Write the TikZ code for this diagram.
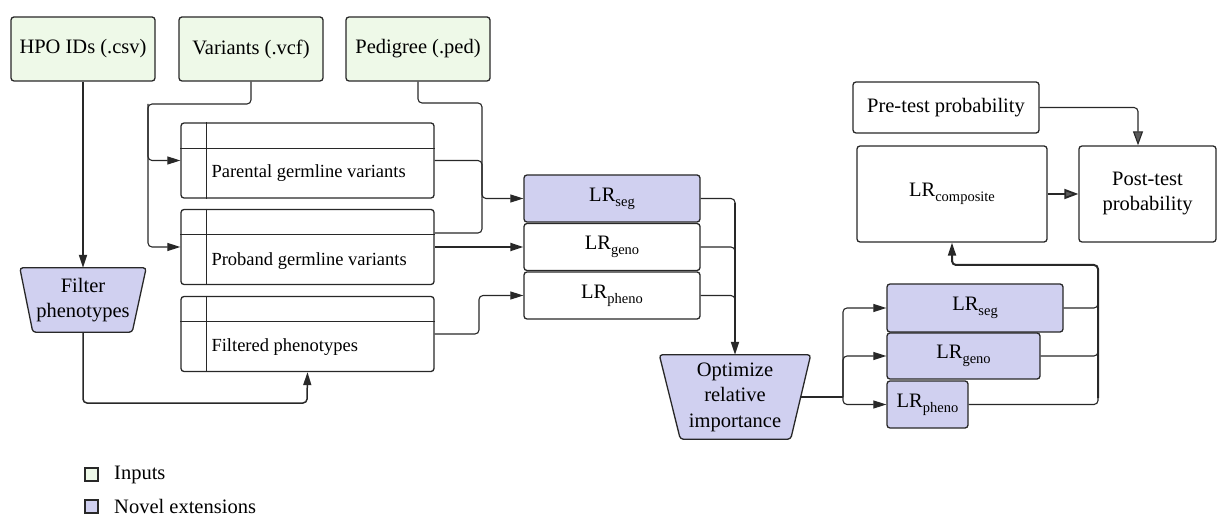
\documentclass[tikz,border=0pt]{standalone}
\usepackage{fontspec}
\setmainfont{Liberation Serif}
\newfontfamily\dgfont{Liberation Serif}
\usetikzlibrary{arrows.meta,calc,backgrounds}
\definecolor{ingreen}{RGB}{238,249,232}
\definecolor{novel}{RGB}{208,208,240}
\definecolor{ln}{RGB}{40,40,40}
\definecolor{tipgray}{RGB}{90,90,90}
\newcommand\lrsub[1]{LR\raisebox{-0.55ex}{\dgfont\fontsize{14.5}{15}\selectfont #1}}
\begin{document}
\begin{tikzpicture}[x=1pt,y=-1pt,
  box/.style={draw=ln, line width=1.3pt, rounded corners=3pt, align=center,
    font=\dgfont\fontsize{20.5}{25}\selectfont, inner sep=0pt},
  inbox/.style={box, fill=ingreen, minimum width=144pt, minimum height=64pt},
  tbl/.style={box, minimum width=253pt, minimum height=75pt},
  tbltext/.style={anchor=west, inner sep=0pt, font=\dgfont\fontsize{18.5}{22}\selectfont},
  lrbox/.style={box, minimum height=47pt},
  nov/.style={fill=novel},
  trap/.style={draw=ln, line width=1.3pt, rounded corners=3pt, fill=novel},
  ttext/.style={align=center, inner sep=0pt, font=\dgfont\fontsize{20.5}{25.5}\selectfont},
  conn/.style={draw=ln, line width=1.1pt, rounded corners=4pt},
  thk/.style={conn, line width=2pt},
  tip/.style={-{Triangle[length=13pt,width=8pt]}},
  gtip/.style={-{Triangle[length=14pt,width=10pt,fill=tipgray]}},
  legsq/.style={draw=ln, line width=1.1pt, minimum size=13pt, inner sep=0pt},
  legtext/.style={anchor=west, inner sep=0pt, font=\dgfont\fontsize{20.5}{24}\selectfont}
]
\useasboundingbox (0,0) rectangle (1217,518);

% inputs
\node[inbox] (hpo) at (83,49) {HPO IDs (.csv)};
\node[inbox] (var) at (251,49) {Variants (.vcf)};
\node[inbox] (ped) at (418,49) {Pedigree (.ped)};

% filter phenotypes trapezoid
\node[ttext, minimum width=126pt, minimum height=64pt] (filt) at (83,300) {Filter\\phenotypes};
\begin{scope}[on background layer]
\draw[trap] (filt.north west) -- (filt.north east) -- ($(filt.south east)+(-14,0)$)
  -- ($(filt.south west)+(13,0)$) -- cycle;
\end{scope}

% tables
\node[tbl] (t1) at (307.5,160.5) {};
\node[tbl] (t2) at (307.5,247) {};
\node[tbl] (t3) at (307.5,334) {};
\foreach \t in {t1,t2,t3}{
  \draw[draw=ln, line width=1.2pt] ($(\t.north west)+(0,26)$) -- ($(\t.north east)+(0,26)$);
  \draw[draw=ln, line width=1.2pt] ($(\t.north west)+(26,0)$) -- ($(\t.south west)+(26,0)$);
}
\node[tbltext] (t1l) at ($(t1.west)+(31,13)$) {Parental germline variants};
\node[tbltext] (t2l) at ($(t2.west)+(31,14)$) {Proband germline variants};
\node[tbltext] (t3l) at ($(t3.west)+(31,13)$) {Filtered phenotypes};

% middle LR boxes
\node[lrbox, nov, minimum width=176pt] (lrs) at (612,198.5) {\lrsub{seg}};
\node[lrbox, minimum width=176pt] (lrg) at (612,247) {\lrsub{geno}};
\node[lrbox, minimum width=176pt] (lrp) at (612,295.5) {\lrsub{pheno}};

% optimize trapezoid
\node[ttext, minimum width=151pt, minimum height=84pt] (opt) at (735,397) {Optimize\\relative\\importance};
\begin{scope}[on background layer]
\draw[trap] (opt.north west) -- (opt.north east) -- ($(opt.south east)+(-20,0)$)
  -- ($(opt.south west)+(21,0)$) -- cycle;
\end{scope}
\coordinate (optE) at ($(opt.east)+(-10,0)$);

% right LR boxes
\node[lrbox, nov, minimum width=176pt, minimum height=48pt] (r1) at (975,308) {\lrsub{seg}};
\node[lrbox, nov, minimum width=153pt, minimum height=46pt] (r2) at (963.5,356) {\lrsub{geno}};
\node[lrbox, nov, minimum width=81pt] (r3) at (927.5,404.5) {\lrsub{pheno}};

% composite, pre, post
\node[box, minimum width=190pt, minimum height=96pt] (comp) at (952,194) {\lrsub{composite}};
\node[box, minimum width=137pt, minimum height=96pt] (post) at (1147.5,194) {Post-test\\probability};
\node[box, minimum width=186pt, minimum height=51pt] (pre) at (946,107.5) {Pre-test probability};

% helper coordinates
\coordinate (vx) at (148,104);
\coordinate (px) at (482,103);
\coordinate (jn) at (482,198.5);
\coordinate (jx) at (479,334);
\coordinate (m0) at (735,215);
\coordinate (m1) at (735,265);
\coordinate (m2) at (735,315);
\coordinate (vtop) at (735,203);
\coordinate (fk) at (843,397);
\coordinate (c1) at (1098,265);
\coordinate (c2) at (1098,290);
\coordinate (c3) at (1098,340);
\coordinate (c4) at (1098,385);
\coordinate (cb) at (1098,398);

% connectors
\draw[thk, tip] (hpo.south) -- (filt.north);
\draw[conn, tip] (var.south) |- (vx) |- (t1.west);
\draw[conn, tip] (vx) |- (t2.west);
\draw[conn, tip] (ped.south) |- (px) |- (lrs.west);
\draw[conn] (t1.east) -| (jn);
\draw[conn] ($(t2.east)+(0,-14)$) -| (jn);
\draw[thk, tip] (t2.east) -- (lrg.west);
\draw[conn, tip] (t3.east) -- (jx) |- (lrp.west);
\draw[conn, line width=1.5pt, tip] (filt.south) |- (307,403) -- (t3.south);

\draw[conn] (lrs.east) -| (m0);
\draw[conn] (lrg.east) -| (m1);
\draw[conn] (lrp.east) -| (m2);
\draw[thk, tip] (vtop) -- (opt.north);

\draw[thk] (optE) -- (fk);
\draw[conn, tip] (fk) |- (r1.west);
\draw[conn, tip] (fk) |- (r2.west);
\draw[conn, tip] (fk) |- (r3.west);

\draw[conn] (r1.east) -| (c2);
\draw[conn] (r2.east) -| (c3);
\draw[conn] (r3.east) -| (c4);
\draw[thk, tip] (cb) -- (c1) -| (comp.south);

\draw[conn, gtip] (pre.east) -| ([xshift=-9.5pt]post.north);
\draw[conn, line width=1.8pt, gtip] (comp.east) -- (post.west);

% legend
\node[legsq, fill=ingreen] (lg1) at (91.5,474.5) {};
\node[legtext] (lg1t) at (114,474.5) {Inputs};
\node[legsq, fill=novel] (lg2) at (91.5,506.5) {};
\node[legtext] (lg2t) at (114,506.5) {Novel extensions};
\end{tikzpicture}
\end{document}
